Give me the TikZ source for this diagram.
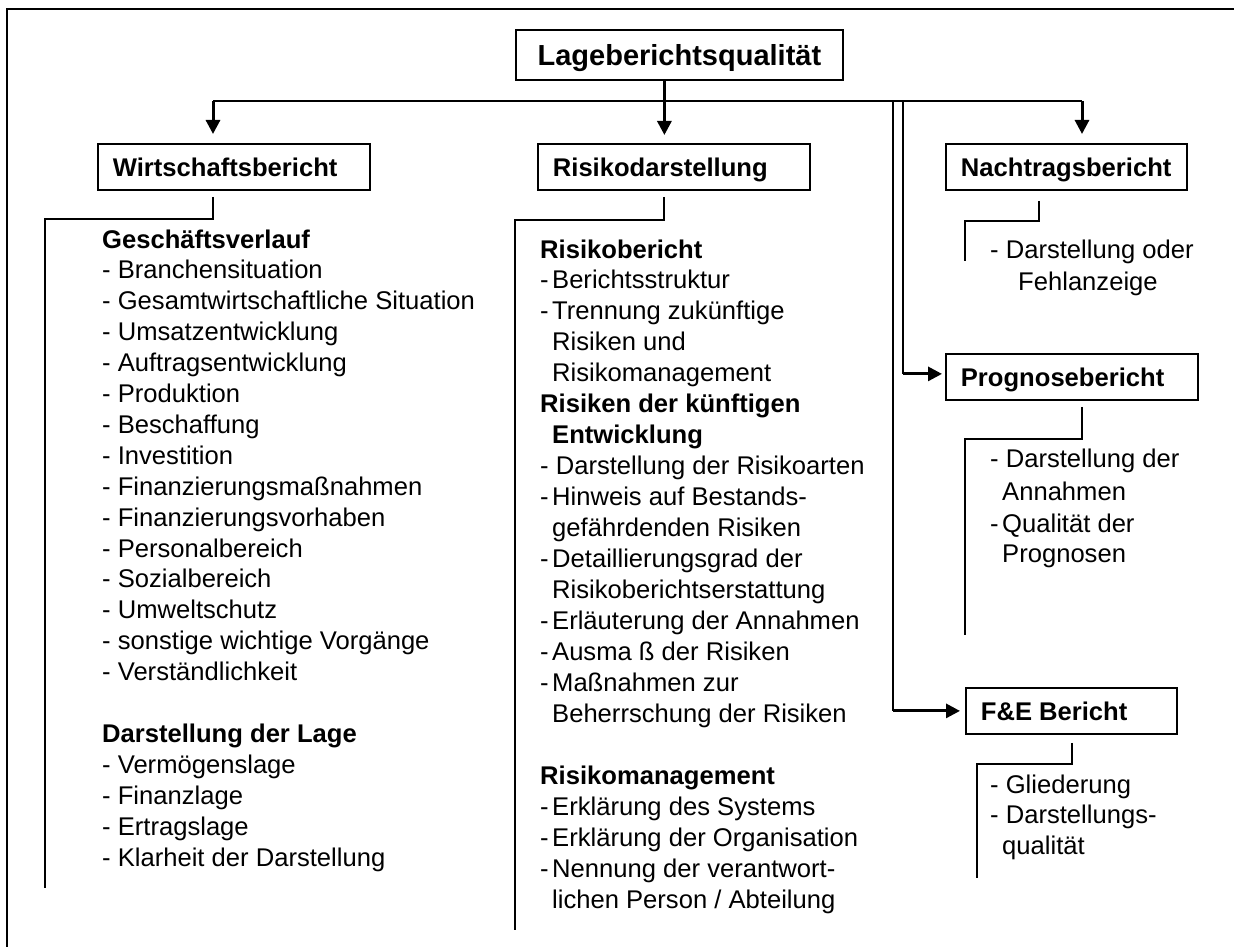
\documentclass[tikz,border=0pt]{standalone}
\usepackage{fontspec}
\setmainfont{Liberation Sans}
\usetikzlibrary{arrows.meta,calc}
\newcommand{\mydash}{\makebox[12pt][l]{-}}
\newcommand{\myind}{\hspace*{12pt}}
\begin{document}
\begin{tikzpicture}[x=1pt,y=-1pt,
  ln/.style={line width=1.8pt},
  arr/.style={line width=3pt,-{Triangle[width=14pt,length=14pt]}},
  box/.style={draw,line width=1.8pt,anchor=north west,inner xsep=15pt,inner ysep=0pt,
    minimum height=46pt,text height=18.5pt,text depth=0pt,
    font=\bfseries\fontsize{25.6}{30}\selectfont},
  txt/.style={anchor=base west,inner sep=0pt,font=\fontsize{25.6}{30}\selectfont}]
\useasboundingbox (0,0) rectangle (1234,947);
% frame
\draw[ln] (7,947) -- (7,9) -- (1234,9);
% boxes
\node[box,minimum width=327pt,minimum height=50pt,inner xsep=0pt,text height=21pt,
  font=\bfseries\fontsize{29}{34}\selectfont] (tq) at (515,29) {Lageberichtsqualität};
\node[box] (wb) at (97,143) {\makebox[242pt][l]{Wirtschaftsbericht}};
\node[box] (rd) at (537,143) {\makebox[242pt][l]{Risikodarstellung}};
\node[box] (nb) at (945,143) {\makebox[211pt][l]{Nachtragsbericht}};
\node[box] (pb) at (945,353) {\makebox[222pt][l]{Prognosebericht}};
\node[box] (fe) at (965,687) {\makebox[181pt][l]{F\&E Bericht}};
% top distribution
\coordinate (hL) at (213,101);
\coordinate (hR) at (1082,101);
\coordinate (vA) at (893,101);
\coordinate (vB) at (903,101);
\coordinate (tqs) at ($(tq.south)+(-15,0)$);
\coordinate (pbin) at ($(pb.west)+(0,-3)$);
\draw[ln] (hL) -- (hR);
\draw[arr,shorten >=9pt] (hL) -- (hL |- wb.north);
\draw[arr,shorten >=9pt] (hR) -- (hR |- nb.north);
\draw[arr,shorten >=8pt] (tqs) -- (tqs |- rd.north);
\draw[ln] (vB) -- (vB |- pbin);
\draw[arr,shorten >=3pt] (vB |- pbin) -- (pbin);
\draw[ln] (vA) -- (vA |- fe.west);
\draw[arr,shorten >=5pt] (vA |- fe.west) -- (fe.west);
% column connectors
\coordinate (wbe) at (45,888);
\coordinate (rde) at (515,930);
\coordinate (nbe) at (965,261);
\coordinate (pbe) at (965,635);
\coordinate (fee) at (977,878);
\draw[ln] ($(wb.south west)+(116,6)$) -- ++(0,22) -| (wbe);
\draw[ln] ($(rd.south west)+(127,6)$) -- ++(0,23) -| (rde);
\draw[ln] ($(nb.south west)+(94,10)$) -- ++(0,20) -| (nbe);
\draw[ln] ($(pb.south west)+(137,6)$) -- ++(0,32) -| (pbe);
\draw[ln] ($(fe.south west)+(107,8)$) -- ++(0,21) -| (fee);
% left column
\foreach \t [count=\i from 0] in {{\textbf{Geschäftsverlauf}},{- Branchensituation},
  {- Gesamtwirtschaftliche Situation},{- Umsatzentwicklung},{- Auftragsentwicklung},
  {- Produktion},{- Beschaffung},{- Investition},{- Finanzierungsmaßnahmen},
  {- Finanzierungsvorhaben},{- Personalbereich},{- Sozialbereich},{- Umweltschutz},
  {- sonstige wichtige Vorgänge},{- Verständlichkeit}}
  \node[txt] (wl\i) at (102,248+30.9*\i) {\t};
\foreach \t [count=\i from 0] in {{\textbf{Darstellung der Lage}},{- Vermögenslage},
  {- Finanzlage},{- Ertragslage},{- Klarheit der Darstellung}}
  \node[txt] (wm\i) at (102,742.4+30.9*\i) {\t};
% middle column
\foreach \t [count=\i from 0] in {{\textbf{Risikobericht}},{\mydash Berichtsstruktur},
  {\mydash Trennung zukünftige},{\myind Risiken und},{\myind Risikomanagement},
  {\textbf{Risiken der künftigen}},{\myind\textbf{Entwicklung}},
  {- Darstellung der Risikoarten},{\mydash Hinweis auf Bestands-},
  {\myind gefährdenden Risiken},{\mydash Detaillierungsgrad der},
  {\myind Risikoberichtserstattung},{\mydash Erläuterung der Annahmen},
  {\mydash Ausma ß der Risiken},{\mydash Maßnahmen zur},{\myind Beherrschung der Risiken}}
  \node[txt] (rl\i) at (540,258+30.95*\i) {\t};
\foreach \t [count=\i from 0] in {{\textbf{Risikomanagement}},{\mydash Erklärung des Systems},
  {\mydash Erklärung der Organisation},{\mydash Nennung der verantwort-},
  {\myind lichen Person / Abteilung}}
  \node[txt] (rm\i) at (540,784.2+30.95*\i) {\t};
% right column
\node[txt] (n1) at (990,258) {- Darstellung oder};
\node[txt] (n2) at (1018,290) {Fehlanzeige};
\node[txt] (p1) at (990,467) {- Darstellung der};
\node[txt] (p2) at (1002,500) {Annahmen};
\node[txt] (p3) at (990,532) {\mydash Qualität der};
\node[txt] (p4) at (1002,562) {Prognosen};
\node[txt] (f1) at (990,793) {- Gliederung};
\node[txt] (f2) at (990,823) {- Darstellungs-};
\node[txt] (f3) at (1002,854) {qualität};
\end{tikzpicture}
\end{document}
